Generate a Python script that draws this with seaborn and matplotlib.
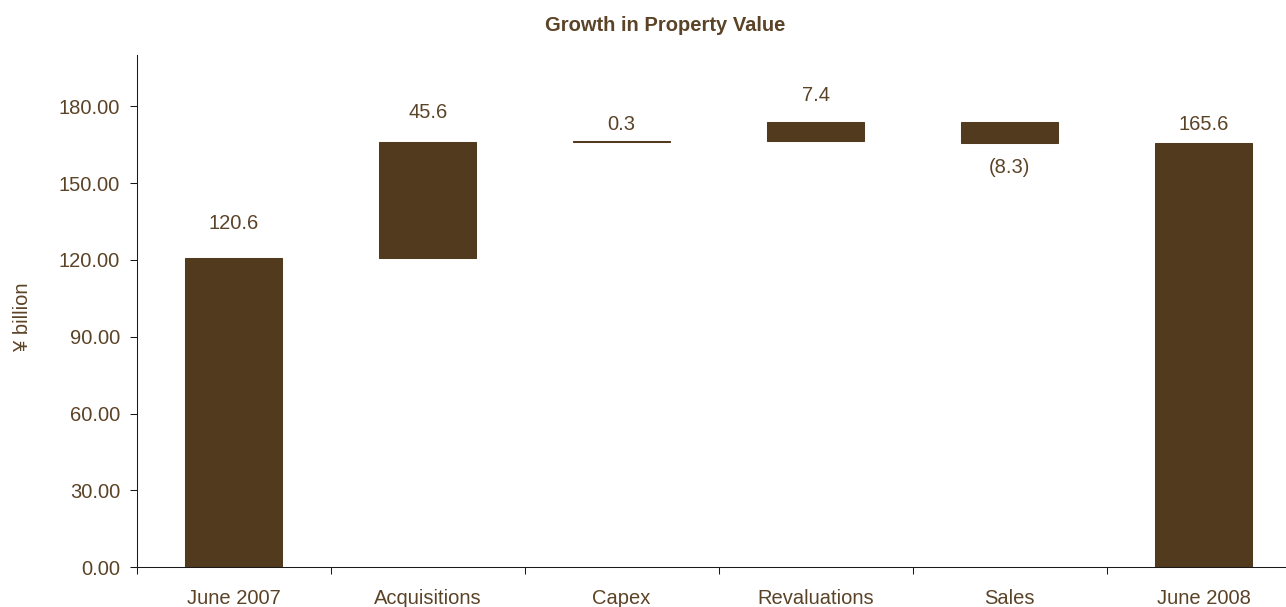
import numpy as np
import pandas as pd
import matplotlib
matplotlib.use("Agg")
import matplotlib.pyplot as plt
import seaborn as sns

# Property value bridge, ¥ billion
categories = ["June 2007", "Acquisitions", "Capex", "Revaluations", "Sales", "June 2008"]
values = [120.6, 45.6, 0.3, 7.4, -8.3, 165.6]
is_total = [True, False, False, False, False, True]
y_ticks = [0, 30, 60, 90, 120, 150, 180]

# label baseline offsets from the bar end, in pixels
label_offsets_px = [29, 24, 11, 21, -30, 13]

BAR = "#523A1E"
TEXT = "#5B4327"
AXIS = "#1a1a1a"

sns.set_theme(style="white")
plt.rcParams["font.family"] = ["Liberation Sans", "DejaVu Sans"]

# waterfall geometry: totals start at zero, changes start from the running total
bases = []
running = 0.0
for v, tot in zip(values, is_total):
    if tot:
        bases.append(0.0)
        running = v
    else:
        bases.append(running)
        running += v

df = pd.DataFrame({"category": categories, "height": values, "base": bases})

fig = plt.figure(figsize=(12.86, 6.07), dpi=100)
ax = fig.add_axes([136.7 / 1286, 39.7 / 607, 1163.9 / 1286, 512.3 / 607])

sns.barplot(
    data=df, x="category", y="height", order=categories,
    bottom=df["base"].to_numpy(), width=0.5, color=BAR, saturation=1,
    edgecolor=BAR, linewidth=0.75, errorbar=None, ax=ax,
)

ax.set_xlim(-0.5, len(categories) - 0.5)
ax.set_ylim(0, 200)
ax.set_yticks(y_ticks)
ax.set_yticklabels([f"{t:.2f}" for t in y_ticks])
ax.set_xlabel("")
ax.set_ylabel("")

# category labels at centres, tick marks on the boundaries
ax.set_xticks(np.arange(len(categories)))
ax.set_xticklabels(categories)
ax.set_xticks(np.arange(len(categories) + 1) - 0.5, minor=True)
ax.tick_params(axis="x", which="major", length=0, pad=15.3, labelsize=14.5, labelcolor=TEXT)
ax.tick_params(axis="x", which="minor", length=5, width=0.75, color=AXIS, direction="out", bottom=True)
ax.tick_params(axis="y", which="major", length=4.8, width=0.75, color=AXIS, direction="out",
               pad=7.2, labelsize=14.5, labelcolor=TEXT, left=True)

for side in ["top", "right"]:
    ax.spines[side].set_visible(False)
for side in ["left", "bottom"]:
    ax.spines[side].set_color(AXIS)
    ax.spines[side].set_linewidth(0.75)
ax.grid(False)

# value labels: above the top of rising bars, below the bottom of falling ones
for i, (v, b, off) in enumerate(zip(values, bases, label_offsets_px)):
    end = b + v
    txt = f"({abs(v):.1f})" if v < 0 else f"{v:.1f}"
    ax.annotate(txt, xy=(i, end), xytext=(0, off), textcoords="offset pixels",
                ha="center", va="baseline", fontsize=14.5, color=TEXT)

fig.text(665 / 1286, 1 - 30.7 / 607, "Growth in Property Value", ha="center", va="baseline",
         fontsize=14.5, fontweight="bold", color=TEXT)
fig.text(23 / 1286, 1 - 316.7 / 607, "¥ billion", ha="center", va="center", rotation=90,
         fontsize=14.5, color=TEXT)

fig.savefig("out.png", dpi=100)
